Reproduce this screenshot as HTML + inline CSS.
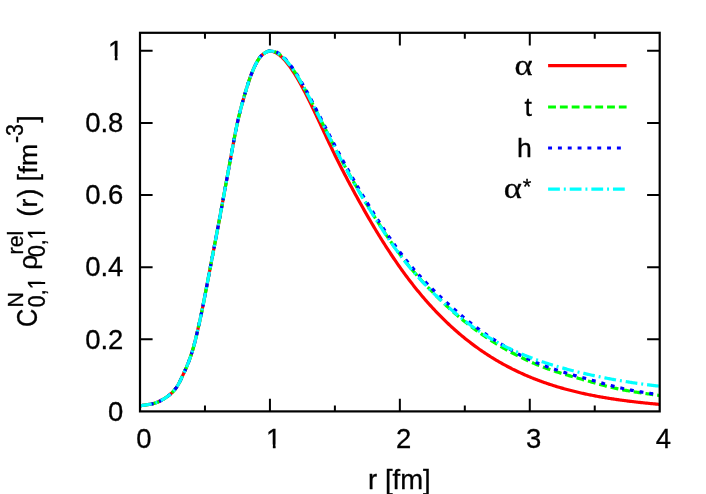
<!DOCTYPE html>
<html lang="en">
<head>
<meta charset="utf-8">
<title>Relative density plot</title>
<style>
html,body{margin:0;padding:0;background:#fff;}
body{width:706px;height:494px;overflow:hidden;font-family:"Liberation Sans",sans-serif;}
svg{display:block;}
</style>
</head>
<body>
<svg width="706" height="494" viewBox="0 0 706 494">
<rect width="706" height="494" fill="#fff"/>
<defs><clipPath id="c1"><path d="M-2,-32.00H26.67V-3.80H9.19V2H6.57V-3.80H-2Z"/></clipPath><clipPath id="c1s"><path d="M-2,-25.60H21.33V-3.40H7.37V2H5.23V-3.40H-2Z"/></clipPath></defs>
<g fill="none" stroke-linejoin="round">
<path d="M140.0,405.70 L141.0,405.59 L142.0,405.48 L143.0,405.36 L144.0,405.22 L145.0,405.08 L146.0,404.93 L147.0,404.76 L148.0,404.60 L149.0,404.42 L150.0,404.23 L151.0,404.04 L152.0,403.82 L153.0,403.59 L154.0,403.33 L155.0,403.04 L156.0,402.72 L157.0,402.36 L158.0,401.95 L159.0,401.51 L160.0,401.02 L161.0,400.50 L162.0,399.95 L163.0,399.37 L164.0,398.77 L165.0,398.14 L166.0,397.49 L167.0,396.80 L168.0,396.07 L169.0,395.29 L170.0,394.46 L171.0,393.57 L172.0,392.62 L173.0,391.61 L174.0,390.52 L175.0,389.35 L176.0,388.05 L177.0,386.59 L178.0,384.94 L179.0,383.12 L180.0,381.17 L181.0,379.13 L182.0,377.02 L183.0,374.89 L184.0,372.73 L185.0,370.53 L186.0,368.28 L187.0,365.96 L188.0,363.53 L189.0,360.97 L190.0,358.27 L191.0,355.40 L192.0,352.32 L193.0,348.98 L194.0,345.37 L195.0,341.52 L196.0,337.46 L197.0,333.23 L198.0,328.89 L199.0,324.46 L200.0,319.94 L201.0,315.31 L202.0,310.52 L203.0,305.57 L204.0,300.48 L205.0,295.30 L206.0,290.04 L207.0,284.75 L208.0,279.46 L209.0,274.20 L210.0,268.97 L211.0,263.76 L212.0,258.55 L213.0,253.32 L214.0,248.08 L215.0,242.82 L216.0,237.54 L217.0,232.24 L218.0,226.93 L219.0,221.59 L220.0,216.22 L221.0,210.82 L222.0,205.38 L223.0,199.92 L224.0,194.45 L225.0,188.98 L226.0,183.53 L227.0,178.10 L228.0,172.69 L229.0,167.27 L230.0,161.80 L231.0,156.28 L232.0,150.75 L233.0,145.25 L234.0,139.84 L235.0,134.57 L236.0,129.51 L237.0,124.69 L238.0,120.14 L239.0,115.85 L240.0,111.79 L241.0,107.90 L242.0,104.17 L243.0,100.56 L244.0,97.04 L245.0,93.60 L246.0,90.23 L247.0,86.93 L248.0,83.75 L249.0,80.72 L250.0,77.85 L251.0,75.14 L252.0,72.58 L253.0,70.14 L254.0,67.85 L255.0,65.73 L256.0,63.75 L257.0,61.90 L258.0,60.15 L259.0,58.54 L260.0,57.14 L261.0,55.99 L262.0,55.06 L263.0,54.26 L264.0,53.52 L265.0,52.85 L266.0,52.26 L267.0,51.77 L268.0,51.40 L269.0,51.16 L270.0,51.08 L271.0,51.14 L272.0,51.30 L273.0,51.56 L274.0,51.91 L275.0,52.33 L276.0,52.83 L277.0,53.41 L278.0,54.07 L279.0,54.79 L280.0,55.59 L281.0,56.45 L282.0,57.38 L283.0,58.37 L284.0,59.42 L285.0,60.54 L286.0,61.70 L287.0,62.93 L288.0,64.20 L289.0,65.53 L290.0,66.91 L291.0,68.33 L292.0,69.80 L293.0,71.32 L294.0,72.88 L295.0,74.47 L296.0,76.11 L297.0,77.79 L298.0,79.50 L299.0,81.24 L300.0,83.02 L301.0,84.83 L302.0,86.67 L303.0,88.54 L304.0,90.43 L305.0,92.36 L306.0,94.30 L307.0,96.28 L308.0,98.27 L309.0,100.28 L310.0,102.32 L311.0,104.37 L312.0,106.44 L313.0,108.52 L314.0,110.62 L315.0,112.72 L316.0,114.84 L317.0,116.97 L318.0,119.11 L319.0,121.25 L320.0,123.40 L321.0,125.55 L322.0,127.71 L323.0,129.86 L324.0,132.01 L325.0,134.16 L326.0,136.31 L327.0,138.45 L328.0,140.59 L329.0,142.71 L330.0,144.83 L331.0,146.93 L332.0,149.02 L333.0,151.10 L334.0,153.16 L335.0,155.22 L336.0,157.25 L337.0,159.27 L338.0,161.28 L339.0,163.27 L340.0,165.25 L341.0,167.21 L342.0,169.16 L343.0,171.10 L344.0,173.02 L345.0,174.94 L346.0,176.84 L347.0,178.74 L348.0,180.63 L349.0,182.51 L350.0,184.38 L351.0,186.25 L352.0,188.10 L353.0,189.95 L354.0,191.80 L355.0,193.64 L356.0,195.47 L357.0,197.29 L358.0,199.11 L359.0,200.92 L360.0,202.72 L361.0,204.52 L362.0,206.30 L363.0,208.08 L364.0,209.86 L365.0,211.62 L366.0,213.37 L367.0,215.12 L368.0,216.86 L369.0,218.59 L370.0,220.31 L371.0,222.02 L372.0,223.73 L373.0,225.42 L374.0,227.11 L375.0,228.78 L376.0,230.45 L377.0,232.10 L378.0,233.75 L379.0,235.39 L380.0,237.02 L381.0,238.63 L382.0,240.24 L383.0,241.84 L384.0,243.43 L385.0,245.00 L386.0,246.57 L387.0,248.13 L388.0,249.67 L389.0,251.21 L390.0,252.73 L391.0,254.25 L392.0,255.75 L393.0,257.25 L394.0,258.73 L395.0,260.20 L396.0,261.66 L397.0,263.11 L398.0,264.55 L399.0,265.98 L400.0,267.40 L401.0,268.81 L402.0,270.21 L403.0,271.60 L404.0,272.97 L405.0,274.34 L406.0,275.69 L407.0,277.04 L408.0,278.37 L409.0,279.69 L410.0,281.00 L411.0,282.31 L412.0,283.60 L413.0,284.88 L414.0,286.15 L415.0,287.41 L416.0,288.66 L417.0,289.90 L418.0,291.12 L419.0,292.34 L420.0,293.55 L421.0,294.75 L422.0,295.94 L423.0,297.12 L424.0,298.29 L425.0,299.45 L426.0,300.60 L427.0,301.74 L428.0,302.87 L429.0,303.99 L430.0,305.10 L431.0,306.20 L432.0,307.29 L433.0,308.37 L434.0,309.45 L435.0,310.51 L436.0,311.57 L437.0,312.61 L438.0,313.65 L439.0,314.68 L440.0,315.70 L441.0,316.71 L442.0,317.71 L443.0,318.70 L444.0,319.68 L445.0,320.66 L446.0,321.62 L447.0,322.58 L448.0,323.53 L449.0,324.47 L450.0,325.40 L451.0,326.32 L452.0,327.24 L453.0,328.15 L454.0,329.05 L455.0,329.94 L456.0,330.82 L457.0,331.69 L458.0,332.56 L459.0,333.42 L460.0,334.27 L461.0,335.11 L462.0,335.94 L463.0,336.77 L464.0,337.59 L465.0,338.40 L466.0,339.21 L467.0,340.00 L468.0,340.79 L469.0,341.57 L470.0,342.35 L471.0,343.11 L472.0,343.87 L473.0,344.62 L474.0,345.37 L475.0,346.11 L476.0,346.84 L477.0,347.56 L478.0,348.28 L479.0,348.99 L480.0,349.69 L481.0,350.39 L482.0,351.07 L483.0,351.76 L484.0,352.43 L485.0,353.10 L486.0,353.76 L487.0,354.42 L488.0,355.07 L489.0,355.71 L490.0,356.35 L491.0,356.98 L492.0,357.60 L493.0,358.22 L494.0,358.83 L495.0,359.43 L496.0,360.03 L497.0,360.62 L498.0,361.21 L499.0,361.79 L500.0,362.36 L501.0,362.93 L502.0,363.49 L503.0,364.05 L504.0,364.60 L505.0,365.15 L506.0,365.69 L507.0,366.22 L508.0,366.75 L509.0,367.27 L510.0,367.79 L511.0,368.30 L512.0,368.81 L513.0,369.31 L514.0,369.80 L515.0,370.29 L516.0,370.78 L517.0,371.26 L518.0,371.73 L519.0,372.20 L520.0,372.67 L521.0,373.13 L522.0,373.58 L523.0,374.03 L524.0,374.48 L525.0,374.92 L526.0,375.35 L527.0,375.78 L528.0,376.21 L529.0,376.63 L530.0,377.04 L531.0,377.45 L532.0,377.86 L533.0,378.26 L534.0,378.66 L535.0,379.05 L536.0,379.44 L537.0,379.83 L538.0,380.21 L539.0,380.58 L540.0,380.96 L541.0,381.32 L542.0,381.69 L543.0,382.04 L544.0,382.40 L545.0,382.75 L546.0,383.10 L547.0,383.44 L548.0,383.78 L549.0,384.11 L550.0,384.45 L551.0,384.77 L552.0,385.10 L553.0,385.42 L554.0,385.73 L555.0,386.04 L556.0,386.35 L557.0,386.66 L558.0,386.96 L559.0,387.26 L560.0,387.55 L561.0,387.84 L562.0,388.13 L563.0,388.41 L564.0,388.69 L565.0,388.97 L566.0,389.24 L567.0,389.51 L568.0,389.78 L569.0,390.04 L570.0,390.31 L571.0,390.56 L572.0,390.82 L573.0,391.07 L574.0,391.32 L575.0,391.56 L576.0,391.81 L577.0,392.04 L578.0,392.28 L579.0,392.52 L580.0,392.75 L581.0,392.97 L582.0,393.20 L583.0,393.42 L584.0,393.64 L585.0,393.86 L586.0,394.07 L587.0,394.28 L588.0,394.49 L589.0,394.70 L590.0,394.90 L591.0,395.11 L592.0,395.30 L593.0,395.50 L594.0,395.69 L595.0,395.89 L596.0,396.08 L597.0,396.26 L598.0,396.45 L599.0,396.63 L600.0,396.81 L601.0,396.99 L602.0,397.16 L603.0,397.34 L604.0,397.51 L605.0,397.68 L606.0,397.84 L607.0,398.01 L608.0,398.17 L609.0,398.33 L610.0,398.49 L611.0,398.65 L612.0,398.80 L613.0,398.95 L614.0,399.11 L615.0,399.26 L616.0,399.40 L617.0,399.55 L618.0,399.69 L619.0,399.83 L620.0,399.97 L621.0,400.11 L622.0,400.25 L623.0,400.38 L624.0,400.52 L625.0,400.65 L626.0,400.78 L627.0,400.91 L628.0,401.04 L629.0,401.16 L630.0,401.29 L631.0,401.41 L632.0,401.53 L633.0,401.65 L634.0,401.77 L635.0,401.88 L636.0,402.00 L637.0,402.11 L638.0,402.23 L639.0,402.34 L640.0,402.45 L641.0,402.56 L642.0,402.66 L643.0,402.77 L644.0,402.88 L645.0,402.98 L646.0,403.08 L647.0,403.18 L648.0,403.28 L649.0,403.38 L650.0,403.48 L651.0,403.58 L652.0,403.67 L653.0,403.77 L654.0,403.86 L655.0,403.96 L656.0,404.05 L657.0,404.14 L658.0,404.23 L659.0,404.31 L659.7,404.38" stroke="#ff0000" stroke-width="3.2"/>
<path d="M140.0,405.70 L141.0,405.59 L142.0,405.48 L143.0,405.36 L144.0,405.22 L145.0,405.08 L146.0,404.93 L147.0,404.76 L148.0,404.60 L149.0,404.42 L150.0,404.23 L151.0,404.04 L152.0,403.82 L153.0,403.59 L154.0,403.33 L155.0,403.04 L156.0,402.72 L157.0,402.36 L158.0,401.95 L159.0,401.51 L160.0,401.02 L161.0,400.50 L162.0,399.95 L163.0,399.37 L164.0,398.77 L165.0,398.14 L166.0,397.49 L167.0,396.80 L168.0,396.07 L169.0,395.29 L170.0,394.46 L171.0,393.57 L172.0,392.62 L173.0,391.61 L174.0,390.52 L175.0,389.35 L176.0,388.05 L177.0,386.59 L178.0,384.94 L179.0,383.12 L180.0,381.17 L181.0,379.13 L182.0,377.02 L183.0,374.89 L184.0,372.73 L185.0,370.53 L186.0,368.28 L187.0,365.96 L188.0,363.53 L189.0,360.97 L190.0,358.27 L191.0,355.40 L192.0,352.32 L193.0,348.98 L194.0,345.37 L195.0,341.52 L196.0,337.46 L197.0,333.23 L198.0,328.89 L199.0,324.46 L200.0,319.94 L201.0,315.31 L202.0,310.52 L203.0,305.57 L204.0,300.48 L205.0,295.30 L206.0,290.04 L207.0,284.75 L208.0,279.46 L209.0,274.20 L210.0,268.97 L211.0,263.76 L212.0,258.55 L213.0,253.32 L214.0,248.08 L215.0,242.82 L216.0,237.54 L217.0,232.24 L218.0,226.93 L219.0,221.59 L220.0,216.22 L221.0,210.82 L222.0,205.38 L223.0,199.92 L224.0,194.45 L225.0,188.98 L226.0,183.53 L227.0,178.10 L228.0,172.69 L229.0,167.27 L230.0,161.80 L231.0,156.28 L232.0,150.75 L233.0,145.25 L234.0,139.84 L235.0,134.57 L236.0,129.51 L237.0,124.69 L238.0,120.14 L239.0,115.85 L240.0,111.79 L241.0,107.90 L242.0,104.17 L243.0,100.56 L244.0,97.04 L245.0,93.60 L246.0,90.23 L247.0,86.93 L248.0,83.75 L249.0,80.72 L250.0,77.85 L251.0,75.14 L252.0,72.58 L253.0,70.14 L254.0,67.85 L255.0,65.73 L256.0,63.75 L257.0,61.90 L258.0,60.15 L259.0,58.54 L260.0,57.14 L261.0,55.99 L262.0,55.06 L263.0,54.26 L264.0,53.52 L265.0,52.85 L266.0,52.26 L267.0,51.77 L268.0,51.40 L269.0,51.16 L270.0,51.05 L271.0,51.04 L272.0,51.12 L273.0,51.29 L274.0,51.55 L275.0,51.88 L276.0,52.29 L277.0,52.78 L278.0,53.35 L279.0,53.99 L280.0,54.70 L281.0,55.48 L282.0,56.32 L283.0,57.23 L284.0,58.20 L285.0,59.23 L286.0,60.32 L287.0,61.47 L288.0,62.67 L289.0,63.92 L290.0,65.23 L291.0,66.58 L292.0,67.98 L293.0,69.42 L294.0,70.90 L295.0,72.43 L296.0,74.00 L297.0,75.60 L298.0,77.23 L299.0,78.90 L300.0,80.61 L301.0,82.34 L302.0,84.09 L303.0,85.87 L304.0,87.68 L305.0,89.50 L306.0,91.35 L307.0,93.21 L308.0,95.09 L309.0,96.99 L310.0,98.89 L311.0,100.82 L312.0,102.75 L313.0,104.69 L314.0,106.64 L315.0,108.60 L316.0,110.56 L317.0,112.53 L318.0,114.51 L319.0,116.48 L320.0,118.46 L321.0,120.44 L322.0,122.42 L323.0,124.40 L324.0,126.38 L325.0,128.36 L326.0,130.33 L327.0,132.31 L328.0,134.27 L329.0,136.24 L330.0,138.19 L331.0,140.15 L332.0,142.09 L333.0,144.03 L334.0,145.96 L335.0,147.88 L336.0,149.79 L337.0,151.69 L338.0,153.58 L339.0,155.47 L340.0,157.34 L341.0,159.21 L342.0,161.06 L343.0,162.91 L344.0,164.74 L345.0,166.56 L346.0,168.38 L347.0,170.19 L348.0,171.98 L349.0,173.77 L350.0,175.55 L351.0,177.32 L352.0,179.08 L353.0,180.84 L354.0,182.58 L355.0,184.32 L356.0,186.05 L357.0,187.77 L358.0,189.49 L359.0,191.20 L360.0,192.90 L361.0,194.59 L362.0,196.28 L363.0,197.96 L364.0,199.63 L365.0,201.30 L366.0,202.95 L367.0,204.61 L368.0,206.25 L369.0,207.89 L370.0,209.52 L371.0,211.14 L372.0,212.76 L373.0,214.37 L374.0,215.97 L375.0,217.57 L376.0,219.15 L377.0,220.73 L378.0,222.31 L379.0,223.87 L380.0,225.43 L381.0,226.97 L382.0,228.51 L383.0,230.05 L384.0,231.57 L385.0,233.08 L386.0,234.58 L387.0,236.08 L388.0,237.56 L389.0,239.04 L390.0,240.50 L391.0,241.95 L392.0,243.40 L393.0,244.83 L394.0,246.24 L395.0,247.65 L396.0,249.05 L397.0,250.43 L398.0,251.80 L399.0,253.15 L400.0,254.49 L401.0,255.82 L402.0,257.14 L403.0,258.44 L404.0,259.74 L405.0,261.01 L406.0,262.28 L407.0,263.53 L408.0,264.78 L409.0,266.00 L410.0,267.22 L411.0,268.42 L412.0,269.62 L413.0,270.80 L414.0,271.97 L415.0,273.13 L416.0,274.28 L417.0,275.42 L418.0,276.54 L419.0,277.66 L420.0,278.77 L421.0,279.87 L422.0,280.97 L423.0,282.05 L424.0,283.12 L425.0,284.19 L426.0,285.25 L427.0,286.30 L428.0,287.34 L429.0,288.38 L430.0,289.41 L431.0,290.43 L432.0,291.46 L433.0,292.47 L434.0,293.49 L435.0,294.50 L436.0,295.51 L437.0,296.51 L438.0,297.51 L439.0,298.50 L440.0,299.49 L441.0,300.47 L442.0,301.45 L443.0,302.42 L444.0,303.38 L445.0,304.34 L446.0,305.28 L447.0,306.22 L448.0,307.15 L449.0,308.08 L450.0,308.99 L451.0,309.89 L452.0,310.79 L453.0,311.68 L454.0,312.56 L455.0,313.43 L456.0,314.30 L457.0,315.15 L458.0,316.01 L459.0,316.85 L460.0,317.69 L461.0,318.51 L462.0,319.34 L463.0,320.15 L464.0,320.96 L465.0,321.76 L466.0,322.56 L467.0,323.34 L468.0,324.13 L469.0,324.90 L470.0,325.67 L471.0,326.43 L472.0,327.18 L473.0,327.93 L474.0,328.67 L475.0,329.40 L476.0,330.13 L477.0,330.85 L478.0,331.57 L479.0,332.28 L480.0,332.98 L481.0,333.68 L482.0,334.37 L483.0,335.07 L484.0,335.76 L485.0,336.44 L486.0,337.13 L487.0,337.81 L488.0,338.48 L489.0,339.14 L490.0,339.80 L491.0,340.46 L492.0,341.10 L493.0,341.74 L494.0,342.37 L495.0,343.00 L496.0,343.62 L497.0,344.23 L498.0,344.84 L499.0,345.45 L500.0,346.05 L501.0,346.64 L502.0,347.22 L503.0,347.80 L504.0,348.38 L505.0,348.94 L506.0,349.50 L507.0,350.06 L508.0,350.61 L509.0,351.15 L510.0,351.69 L511.0,352.22 L512.0,352.75 L513.0,353.27 L514.0,353.79 L515.0,354.30 L516.0,354.81 L517.0,355.32 L518.0,355.82 L519.0,356.32 L520.0,356.82 L521.0,357.31 L522.0,357.80 L523.0,358.29 L524.0,358.78 L525.0,359.26 L526.0,359.74 L527.0,360.22 L528.0,360.69 L529.0,361.15 L530.0,361.61 L531.0,362.07 L532.0,362.52 L533.0,362.96 L534.0,363.39 L535.0,363.82 L536.0,364.24 L537.0,364.65 L538.0,365.06 L539.0,365.46 L540.0,365.86 L541.0,366.25 L542.0,366.64 L543.0,367.03 L544.0,367.41 L545.0,367.78 L546.0,368.15 L547.0,368.52 L548.0,368.88 L549.0,369.24 L550.0,369.59 L551.0,369.94 L552.0,370.29 L553.0,370.63 L554.0,370.97 L555.0,371.30 L556.0,371.63 L557.0,371.96 L558.0,372.28 L559.0,372.59 L560.0,372.90 L561.0,373.21 L562.0,373.52 L563.0,373.82 L564.0,374.12 L565.0,374.42 L566.0,374.71 L567.0,375.01 L568.0,375.30 L569.0,375.59 L570.0,375.88 L571.0,376.17 L572.0,376.46 L573.0,376.75 L574.0,377.03 L575.0,377.32 L576.0,377.61 L577.0,377.89 L578.0,378.18 L579.0,378.47 L580.0,378.75 L581.0,379.03 L582.0,379.32 L583.0,379.60 L584.0,379.88 L585.0,380.16 L586.0,380.44 L587.0,380.72 L588.0,381.00 L589.0,381.28 L590.0,381.56 L591.0,381.84 L592.0,382.12 L593.0,382.41 L594.0,382.70 L595.0,382.99 L596.0,383.28 L597.0,383.57 L598.0,383.86 L599.0,384.15 L600.0,384.44 L601.0,384.72 L602.0,385.00 L603.0,385.28 L604.0,385.56 L605.0,385.83 L606.0,386.09 L607.0,386.34 L608.0,386.59 L609.0,386.84 L610.0,387.07 L611.0,387.31 L612.0,387.54 L613.0,387.77 L614.0,387.99 L615.0,388.21 L616.0,388.43 L617.0,388.65 L618.0,388.86 L619.0,389.07 L620.0,389.28 L621.0,389.48 L622.0,389.68 L623.0,389.88 L624.0,390.07 L625.0,390.26 L626.0,390.44 L627.0,390.62 L628.0,390.80 L629.0,390.97 L630.0,391.15 L631.0,391.32 L632.0,391.48 L633.0,391.65 L634.0,391.81 L635.0,391.97 L636.0,392.13 L637.0,392.29 L638.0,392.44 L639.0,392.59 L640.0,392.74 L641.0,392.89 L642.0,393.04 L643.0,393.19 L644.0,393.33 L645.0,393.47 L646.0,393.61 L647.0,393.75 L648.0,393.89 L649.0,394.03 L650.0,394.17 L651.0,394.31 L652.0,394.44 L653.0,394.58 L654.0,394.71 L655.0,394.84 L656.0,394.98 L657.0,395.11 L658.0,395.25 L659.0,395.38 L659.7,395.49" stroke="#00ff00" stroke-width="3.2" stroke-dasharray="7.86 3.93"/>
<path d="M140.0,405.70 L141.0,405.59 L142.0,405.48 L143.0,405.36 L144.0,405.22 L145.0,405.08 L146.0,404.93 L147.0,404.76 L148.0,404.60 L149.0,404.42 L150.0,404.23 L151.0,404.04 L152.0,403.82 L153.0,403.59 L154.0,403.33 L155.0,403.04 L156.0,402.72 L157.0,402.36 L158.0,401.95 L159.0,401.51 L160.0,401.02 L161.0,400.50 L162.0,399.95 L163.0,399.37 L164.0,398.77 L165.0,398.14 L166.0,397.49 L167.0,396.80 L168.0,396.07 L169.0,395.29 L170.0,394.46 L171.0,393.57 L172.0,392.62 L173.0,391.61 L174.0,390.52 L175.0,389.35 L176.0,388.05 L177.0,386.59 L178.0,384.94 L179.0,383.12 L180.0,381.17 L181.0,379.13 L182.0,377.02 L183.0,374.89 L184.0,372.73 L185.0,370.53 L186.0,368.28 L187.0,365.96 L188.0,363.53 L189.0,360.97 L190.0,358.27 L191.0,355.40 L192.0,352.32 L193.0,348.98 L194.0,345.37 L195.0,341.52 L196.0,337.46 L197.0,333.23 L198.0,328.89 L199.0,324.46 L200.0,319.94 L201.0,315.31 L202.0,310.52 L203.0,305.57 L204.0,300.48 L205.0,295.30 L206.0,290.04 L207.0,284.75 L208.0,279.46 L209.0,274.20 L210.0,268.97 L211.0,263.76 L212.0,258.55 L213.0,253.32 L214.0,248.08 L215.0,242.82 L216.0,237.54 L217.0,232.24 L218.0,226.93 L219.0,221.59 L220.0,216.22 L221.0,210.82 L222.0,205.38 L223.0,199.92 L224.0,194.45 L225.0,188.98 L226.0,183.53 L227.0,178.10 L228.0,172.69 L229.0,167.27 L230.0,161.80 L231.0,156.28 L232.0,150.75 L233.0,145.25 L234.0,139.84 L235.0,134.57 L236.0,129.51 L237.0,124.69 L238.0,120.14 L239.0,115.85 L240.0,111.79 L241.0,107.90 L242.0,104.17 L243.0,100.56 L244.0,97.04 L245.0,93.60 L246.0,90.23 L247.0,86.93 L248.0,83.75 L249.0,80.72 L250.0,77.85 L251.0,75.14 L252.0,72.58 L253.0,70.14 L254.0,67.85 L255.0,65.73 L256.0,63.75 L257.0,61.90 L258.0,60.15 L259.0,58.54 L260.0,57.14 L261.0,55.99 L262.0,55.06 L263.0,54.26 L264.0,53.52 L265.0,52.85 L266.0,52.26 L267.0,51.77 L268.0,51.40 L269.0,51.15 L270.0,51.01 L271.0,50.94 L272.0,50.94 L273.0,51.02 L274.0,51.21 L275.0,51.49 L276.0,51.86 L277.0,52.32 L278.0,52.86 L279.0,53.48 L280.0,54.17 L281.0,54.93 L282.0,55.76 L283.0,56.65 L284.0,57.61 L285.0,58.62 L286.0,59.70 L287.0,60.83 L288.0,62.01 L289.0,63.24 L290.0,64.53 L291.0,65.85 L292.0,67.23 L293.0,68.64 L294.0,70.10 L295.0,71.60 L296.0,73.13 L297.0,74.70 L298.0,76.31 L299.0,77.94 L300.0,79.60 L301.0,81.29 L302.0,83.01 L303.0,84.74 L304.0,86.50 L305.0,88.28 L306.0,90.08 L307.0,91.89 L308.0,93.73 L309.0,95.59 L310.0,97.46 L311.0,99.35 L312.0,101.26 L313.0,103.17 L314.0,105.09 L315.0,107.02 L316.0,108.95 L317.0,110.90 L318.0,112.84 L319.0,114.79 L320.0,116.74 L321.0,118.69 L322.0,120.64 L323.0,122.60 L324.0,124.55 L325.0,126.50 L326.0,128.45 L327.0,130.39 L328.0,132.33 L329.0,134.27 L330.0,136.20 L331.0,138.13 L332.0,140.05 L333.0,141.97 L334.0,143.87 L335.0,145.78 L336.0,147.67 L337.0,149.56 L338.0,151.45 L339.0,153.32 L340.0,155.19 L341.0,157.05 L342.0,158.90 L343.0,160.74 L344.0,162.57 L345.0,164.39 L346.0,166.21 L347.0,168.01 L348.0,169.80 L349.0,171.59 L350.0,173.37 L351.0,175.14 L352.0,176.90 L353.0,178.65 L354.0,180.39 L355.0,182.13 L356.0,183.86 L357.0,185.58 L358.0,187.30 L359.0,189.00 L360.0,190.70 L361.0,192.40 L362.0,194.08 L363.0,195.76 L364.0,197.43 L365.0,199.10 L366.0,200.76 L367.0,202.41 L368.0,204.05 L369.0,205.69 L370.0,207.32 L371.0,208.94 L372.0,210.56 L373.0,212.16 L374.0,213.76 L375.0,215.36 L376.0,216.94 L377.0,218.52 L378.0,220.09 L379.0,221.65 L380.0,223.21 L381.0,224.75 L382.0,226.29 L383.0,227.81 L384.0,229.33 L385.0,230.84 L386.0,232.34 L387.0,233.83 L388.0,235.31 L389.0,236.78 L390.0,238.24 L391.0,239.69 L392.0,241.12 L393.0,242.55 L394.0,243.96 L395.0,245.36 L396.0,246.75 L397.0,248.12 L398.0,249.49 L399.0,250.84 L400.0,252.17 L401.0,253.49 L402.0,254.80 L403.0,256.10 L404.0,257.38 L405.0,258.65 L406.0,259.90 L407.0,261.14 L408.0,262.37 L409.0,263.59 L410.0,264.79 L411.0,265.98 L412.0,267.16 L413.0,268.32 L414.0,269.48 L415.0,270.62 L416.0,271.75 L417.0,272.87 L418.0,273.99 L419.0,275.09 L420.0,276.18 L421.0,277.26 L422.0,278.33 L423.0,279.40 L424.0,280.45 L425.0,281.50 L426.0,282.54 L427.0,283.57 L428.0,284.60 L429.0,285.61 L430.0,286.62 L431.0,287.63 L432.0,288.62 L433.0,289.61 L434.0,290.59 L435.0,291.57 L436.0,292.54 L437.0,293.51 L438.0,294.46 L439.0,295.42 L440.0,296.36 L441.0,297.30 L442.0,298.24 L443.0,299.17 L444.0,300.10 L445.0,301.02 L446.0,301.93 L447.0,302.84 L448.0,303.74 L449.0,304.64 L450.0,305.54 L451.0,306.42 L452.0,307.31 L453.0,308.18 L454.0,309.05 L455.0,309.92 L456.0,310.79 L457.0,311.66 L458.0,312.54 L459.0,313.42 L460.0,314.29 L461.0,315.17 L462.0,316.03 L463.0,316.89 L464.0,317.73 L465.0,318.56 L466.0,319.38 L467.0,320.19 L468.0,320.98 L469.0,321.77 L470.0,322.55 L471.0,323.32 L472.0,324.08 L473.0,324.84 L474.0,325.59 L475.0,326.34 L476.0,327.09 L477.0,327.83 L478.0,328.56 L479.0,329.30 L480.0,330.02 L481.0,330.75 L482.0,331.47 L483.0,332.18 L484.0,332.89 L485.0,333.59 L486.0,334.29 L487.0,334.98 L488.0,335.66 L489.0,336.34 L490.0,337.01 L491.0,337.67 L492.0,338.33 L493.0,338.98 L494.0,339.62 L495.0,340.26 L496.0,340.89 L497.0,341.51 L498.0,342.13 L499.0,342.74 L500.0,343.35 L501.0,343.96 L502.0,344.56 L503.0,345.16 L504.0,345.75 L505.0,346.35 L506.0,346.94 L507.0,347.54 L508.0,348.14 L509.0,348.74 L510.0,349.34 L511.0,349.93 L512.0,350.53 L513.0,351.11 L514.0,351.69 L515.0,352.26 L516.0,352.82 L517.0,353.37 L518.0,353.91 L519.0,354.44 L520.0,354.96 L521.0,355.47 L522.0,355.98 L523.0,356.48 L524.0,356.98 L525.0,357.47 L526.0,357.96 L527.0,358.44 L528.0,358.91 L529.0,359.37 L530.0,359.83 L531.0,360.29 L532.0,360.73 L533.0,361.17 L534.0,361.60 L535.0,362.02 L536.0,362.44 L537.0,362.85 L538.0,363.25 L539.0,363.65 L540.0,364.04 L541.0,364.43 L542.0,364.81 L543.0,365.18 L544.0,365.55 L545.0,365.92 L546.0,366.28 L547.0,366.64 L548.0,367.00 L549.0,367.35 L550.0,367.70 L551.0,368.04 L552.0,368.39 L553.0,368.73 L554.0,369.07 L555.0,369.41 L556.0,369.74 L557.0,370.07 L558.0,370.40 L559.0,370.73 L560.0,371.06 L561.0,371.38 L562.0,371.70 L563.0,372.02 L564.0,372.33 L565.0,372.64 L566.0,372.95 L567.0,373.26 L568.0,373.56 L569.0,373.86 L570.0,374.16 L571.0,374.46 L572.0,374.75 L573.0,375.04 L574.0,375.33 L575.0,375.62 L576.0,375.90 L577.0,376.18 L578.0,376.45 L579.0,376.72 L580.0,377.00 L581.0,377.26 L582.0,377.53 L583.0,377.80 L584.0,378.06 L585.0,378.33 L586.0,378.59 L587.0,378.86 L588.0,379.13 L589.0,379.39 L590.0,379.66 L591.0,379.93 L592.0,380.21 L593.0,380.49 L594.0,380.77 L595.0,381.06 L596.0,381.35 L597.0,381.64 L598.0,381.93 L599.0,382.22 L600.0,382.51 L601.0,382.80 L602.0,383.09 L603.0,383.38 L604.0,383.67 L605.0,383.95 L606.0,384.23 L607.0,384.50 L608.0,384.77 L609.0,385.04 L610.0,385.30 L611.0,385.56 L612.0,385.82 L613.0,386.08 L614.0,386.33 L615.0,386.59 L616.0,386.84 L617.0,387.09 L618.0,387.34 L619.0,387.58 L620.0,387.82 L621.0,388.05 L622.0,388.29 L623.0,388.51 L624.0,388.73 L625.0,388.94 L626.0,389.15 L627.0,389.36 L628.0,389.56 L629.0,389.76 L630.0,389.96 L631.0,390.15 L632.0,390.34 L633.0,390.53 L634.0,390.71 L635.0,390.90 L636.0,391.08 L637.0,391.26 L638.0,391.43 L639.0,391.60 L640.0,391.77 L641.0,391.94 L642.0,392.11 L643.0,392.27 L644.0,392.44 L645.0,392.60 L646.0,392.76 L647.0,392.92 L648.0,393.07 L649.0,393.23 L650.0,393.38 L651.0,393.53 L652.0,393.68 L653.0,393.83 L654.0,393.97 L655.0,394.12 L656.0,394.27 L657.0,394.41 L658.0,394.55 L659.0,394.68 L659.7,394.79" stroke="#0000ff" stroke-width="3.2" stroke-dasharray="3.93 5.90"/>
<path d="M140.0,405.70 L141.0,405.59 L142.0,405.48 L143.0,405.36 L144.0,405.22 L145.0,405.08 L146.0,404.93 L147.0,404.76 L148.0,404.60 L149.0,404.42 L150.0,404.23 L151.0,404.04 L152.0,403.82 L153.0,403.59 L154.0,403.33 L155.0,403.04 L156.0,402.72 L157.0,402.36 L158.0,401.95 L159.0,401.51 L160.0,401.02 L161.0,400.50 L162.0,399.95 L163.0,399.37 L164.0,398.77 L165.0,398.14 L166.0,397.49 L167.0,396.80 L168.0,396.07 L169.0,395.29 L170.0,394.46 L171.0,393.57 L172.0,392.62 L173.0,391.61 L174.0,390.52 L175.0,389.35 L176.0,388.05 L177.0,386.59 L178.0,384.94 L179.0,383.12 L180.0,381.17 L181.0,379.13 L182.0,377.02 L183.0,374.89 L184.0,372.73 L185.0,370.53 L186.0,368.28 L187.0,365.96 L188.0,363.53 L189.0,360.97 L190.0,358.27 L191.0,355.40 L192.0,352.32 L193.0,348.98 L194.0,345.37 L195.0,341.52 L196.0,337.46 L197.0,333.23 L198.0,328.89 L199.0,324.46 L200.0,319.94 L201.0,315.31 L202.0,310.52 L203.0,305.57 L204.0,300.48 L205.0,295.30 L206.0,290.04 L207.0,284.75 L208.0,279.46 L209.0,274.20 L210.0,268.97 L211.0,263.76 L212.0,258.55 L213.0,253.32 L214.0,248.08 L215.0,242.82 L216.0,237.54 L217.0,232.24 L218.0,226.93 L219.0,221.59 L220.0,216.22 L221.0,210.82 L222.0,205.38 L223.0,199.92 L224.0,194.45 L225.0,188.98 L226.0,183.53 L227.0,178.10 L228.0,172.69 L229.0,167.27 L230.0,161.80 L231.0,156.28 L232.0,150.75 L233.0,145.25 L234.0,139.84 L235.0,134.57 L236.0,129.51 L237.0,124.69 L238.0,120.14 L239.0,115.85 L240.0,111.79 L241.0,107.90 L242.0,104.17 L243.0,100.56 L244.0,97.04 L245.0,93.60 L246.0,90.23 L247.0,86.93 L248.0,83.75 L249.0,80.72 L250.0,77.85 L251.0,75.14 L252.0,72.58 L253.0,70.14 L254.0,67.85 L255.0,65.73 L256.0,63.75 L257.0,61.90 L258.0,60.15 L259.0,58.54 L260.0,57.14 L261.0,55.99 L262.0,55.06 L263.0,54.26 L264.0,53.52 L265.0,52.85 L266.0,52.26 L267.0,51.77 L268.0,51.40 L269.0,51.16 L270.0,51.05 L271.0,51.04 L272.0,51.12 L273.0,51.29 L274.0,51.55 L275.0,51.88 L276.0,52.29 L277.0,52.78 L278.0,53.35 L279.0,53.99 L280.0,54.70 L281.0,55.48 L282.0,56.32 L283.0,57.23 L284.0,58.20 L285.0,59.23 L286.0,60.32 L287.0,61.47 L288.0,62.67 L289.0,63.92 L290.0,65.23 L291.0,66.58 L292.0,67.98 L293.0,69.42 L294.0,70.90 L295.0,72.43 L296.0,74.00 L297.0,75.60 L298.0,77.23 L299.0,78.90 L300.0,80.61 L301.0,82.34 L302.0,84.10 L303.0,85.88 L304.0,87.69 L305.0,89.52 L306.0,91.38 L307.0,93.25 L308.0,95.14 L309.0,97.04 L310.0,98.96 L311.0,100.90 L312.0,102.84 L313.0,104.80 L314.0,106.76 L315.0,108.73 L316.0,110.71 L317.0,112.69 L318.0,114.68 L319.0,116.67 L320.0,118.66 L321.0,120.66 L322.0,122.65 L323.0,124.64 L324.0,126.63 L325.0,128.62 L326.0,130.60 L327.0,132.58 L328.0,134.56 L329.0,136.53 L330.0,138.49 L331.0,140.45 L332.0,142.40 L333.0,144.34 L334.0,146.27 L335.0,148.20 L336.0,150.12 L337.0,152.02 L338.0,153.92 L339.0,155.81 L340.0,157.69 L341.0,159.56 L342.0,161.42 L343.0,163.26 L344.0,165.10 L345.0,166.93 L346.0,168.75 L347.0,170.56 L348.0,172.36 L349.0,174.16 L350.0,175.94 L351.0,177.71 L352.0,179.48 L353.0,181.24 L354.0,182.99 L355.0,184.73 L356.0,186.46 L357.0,188.19 L358.0,189.91 L359.0,191.62 L360.0,193.32 L361.0,195.02 L362.0,196.71 L363.0,198.39 L364.0,200.07 L365.0,201.74 L366.0,203.40 L367.0,205.05 L368.0,206.70 L369.0,208.34 L370.0,209.98 L371.0,211.60 L372.0,213.22 L373.0,214.83 L374.0,216.44 L375.0,218.04 L376.0,219.62 L377.0,221.21 L378.0,222.78 L379.0,224.35 L380.0,225.91 L381.0,227.46 L382.0,229.00 L383.0,230.53 L384.0,232.05 L385.0,233.57 L386.0,235.07 L387.0,236.57 L388.0,238.06 L389.0,239.53 L390.0,241.00 L391.0,242.45 L392.0,243.89 L393.0,245.32 L394.0,246.74 L395.0,248.15 L396.0,249.54 L397.0,250.93 L398.0,252.30 L399.0,253.65 L400.0,254.99 L401.0,256.32 L402.0,257.64 L403.0,258.94 L404.0,260.23 L405.0,261.50 L406.0,262.76 L407.0,264.01 L408.0,265.25 L409.0,266.47 L410.0,267.68 L411.0,268.87 L412.0,270.06 L413.0,271.23 L414.0,272.39 L415.0,273.54 L416.0,274.68 L417.0,275.80 L418.0,276.92 L419.0,278.03 L420.0,279.12 L421.0,280.21 L422.0,281.29 L423.0,282.36 L424.0,283.42 L425.0,284.47 L426.0,285.51 L427.0,286.55 L428.0,287.57 L429.0,288.59 L430.0,289.61 L431.0,290.61 L432.0,291.61 L433.0,292.60 L434.0,293.59 L435.0,294.57 L436.0,295.54 L437.0,296.50 L438.0,297.46 L439.0,298.42 L440.0,299.36 L441.0,300.30 L442.0,301.24 L443.0,302.17 L444.0,303.09 L445.0,304.00 L446.0,304.91 L447.0,305.82 L448.0,306.71 L449.0,307.61 L450.0,308.49 L451.0,309.37 L452.0,310.24 L453.0,311.11 L454.0,311.97 L455.0,312.82 L456.0,313.66 L457.0,314.50 L458.0,315.34 L459.0,316.16 L460.0,316.98 L461.0,317.79 L462.0,318.60 L463.0,319.39 L464.0,320.18 L465.0,320.97 L466.0,321.74 L467.0,322.51 L468.0,323.27 L469.0,324.02 L470.0,324.77 L471.0,325.51 L472.0,326.24 L473.0,326.96 L474.0,327.68 L475.0,328.38 L476.0,329.08 L477.0,329.78 L478.0,330.46 L479.0,331.14 L480.0,331.81 L481.0,332.48 L482.0,333.13 L483.0,333.78 L484.0,334.42 L485.0,335.06 L486.0,335.68 L487.0,336.30 L488.0,336.92 L489.0,337.52 L490.0,338.12 L491.0,338.72 L492.0,339.30 L493.0,339.88 L494.0,340.45 L495.0,341.02 L496.0,341.58 L497.0,342.13 L498.0,342.68 L499.0,343.22 L500.0,343.76 L501.0,344.29 L502.0,344.81 L503.0,345.33 L504.0,345.84 L505.0,346.34 L506.0,346.84 L507.0,347.34 L508.0,347.83 L509.0,348.31 L510.0,348.79 L511.0,349.26 L512.0,349.73 L513.0,350.19 L514.0,350.65 L515.0,351.10 L516.0,351.55 L517.0,351.99 L518.0,352.43 L519.0,352.86 L520.0,353.29 L521.0,353.72 L522.0,354.14 L523.0,354.55 L524.0,354.96 L525.0,355.37 L526.0,355.77 L527.0,356.17 L528.0,356.56 L529.0,356.95 L530.0,357.33 L531.0,357.72 L532.0,358.09 L533.0,358.47 L534.0,358.84 L535.0,359.20 L536.0,359.56 L537.0,359.92 L538.0,360.28 L539.0,360.63 L540.0,360.97 L541.0,361.32 L542.0,361.66 L543.0,361.99 L544.0,362.33 L545.0,362.66 L546.0,362.99 L547.0,363.31 L548.0,363.63 L549.0,363.95 L550.0,364.26 L551.0,364.57 L552.0,364.88 L553.0,365.19 L554.0,365.49 L555.0,365.79 L556.0,366.09 L557.0,366.38 L558.0,366.67 L559.0,366.96 L560.0,367.25 L561.0,367.53 L562.0,367.81 L563.0,368.09 L564.0,368.37 L565.0,368.64 L566.0,368.91 L567.0,369.18 L568.0,369.44 L569.0,369.71 L570.0,369.97 L571.0,370.23 L572.0,370.49 L573.0,370.74 L574.0,370.99 L575.0,371.24 L576.0,371.49 L577.0,371.74 L578.0,371.98 L579.0,372.22 L580.0,372.46 L581.0,372.70 L582.0,372.94 L583.0,373.17 L584.0,373.41 L585.0,373.64 L586.0,373.86 L587.0,374.09 L588.0,374.32 L589.0,374.54 L590.0,374.76 L591.0,374.98 L592.0,375.20 L593.0,375.41 L594.0,375.63 L595.0,375.84 L596.0,376.05 L597.0,376.26 L598.0,376.47 L599.0,376.67 L600.0,376.87 L601.0,377.08 L602.0,377.28 L603.0,377.48 L604.0,377.67 L605.0,377.87 L606.0,378.06 L607.0,378.26 L608.0,378.45 L609.0,378.64 L610.0,378.83 L611.0,379.01 L612.0,379.20 L613.0,379.38 L614.0,379.56 L615.0,379.74 L616.0,379.92 L617.0,380.10 L618.0,380.28 L619.0,380.45 L620.0,380.62 L621.0,380.79 L622.0,380.96 L623.0,381.13 L624.0,381.30 L625.0,381.47 L626.0,381.63 L627.0,381.79 L628.0,381.95 L629.0,382.11 L630.0,382.27 L631.0,382.42 L632.0,382.58 L633.0,382.73 L634.0,382.88 L635.0,383.03 L636.0,383.18 L637.0,383.33 L638.0,383.47 L639.0,383.62 L640.0,383.76 L641.0,383.90 L642.0,384.04 L643.0,384.17 L644.0,384.31 L645.0,384.44 L646.0,384.57 L647.0,384.70 L648.0,384.83 L649.0,384.96 L650.0,385.08 L651.0,385.20 L652.0,385.32 L653.0,385.44 L654.0,385.56 L655.0,385.68 L656.0,385.79 L657.0,385.90 L658.0,386.01 L659.0,386.10 L659.7,386.19" stroke="#00ffff" stroke-width="3.2" stroke-dasharray="11.79 3.93 1.97 3.93"/>
</g>
<g fill="none">
<path d="M548.1,65.7H626.6" stroke="#ff0000" stroke-width="3.2"/>
<path d="M548.1,107.0H626.6" stroke="#00ff00" stroke-width="3.2" stroke-dasharray="7.86 3.93"/>
<path d="M548.1,148.0H626.6" stroke="#0000ff" stroke-width="3.2" stroke-dasharray="3.93 5.90"/>
<path d="M548.1,189.2H626.6" stroke="#00ffff" stroke-width="3.2" stroke-dasharray="11.79 3.93 1.97 3.93"/>
</g>
<path d="M204.96,411.40v-6.00M204.96,32.80v6.00M269.93,411.40v-12.60M269.93,32.80v12.60M334.89,411.40v-6.00M334.89,32.80v6.00M399.85,411.40v-12.60M399.85,32.80v12.60M464.81,411.40v-6.00M464.81,32.80v6.00M529.78,411.40v-12.60M529.78,32.80v12.60M594.74,411.40v-6.00M594.74,32.80v6.00M140.00,339.28h12.60M659.70,339.28h-12.60M140.00,267.16h12.60M659.70,267.16h-12.60M140.00,195.04h12.60M659.70,195.04h-12.60M140.00,122.92h12.60M659.70,122.92h-12.60M140.00,50.80h12.60M659.70,50.80h-12.60" stroke="#000" stroke-width="2" fill="none"/>
<rect x="140.0" y="32.8" width="519.70" height="378.60" fill="none" stroke="#000" stroke-width="2.2"/>
<g font-family="Liberation Sans, sans-serif" font-size="26.67" fill="#000" stroke="#000" stroke-width="0.3" opacity="0.999" style="will-change:transform">
<text transform="translate(123.30,420.70) scale(1.03,1.05)" text-anchor="end">0</text>
<text transform="translate(123.30,348.58) scale(1.03,1.05)" text-anchor="end">0.2</text>
<text transform="translate(123.30,276.46) scale(1.03,1.05)" text-anchor="end">0.4</text>
<text transform="translate(123.30,204.34) scale(1.03,1.05)" text-anchor="end">0.6</text>
<text transform="translate(123.30,132.22) scale(1.03,1.05)" text-anchor="end">0.8</text>
<text transform="translate(108.03,60.10) scale(1.03,1.05)" text-anchor="start" clip-path="url(#c1)">1</text>
<text transform="translate(143.80,448.40) scale(1.03,1.05)" text-anchor="middle">0</text>
<text transform="translate(266.09,448.40) scale(1.03,1.05)" text-anchor="start" clip-path="url(#c1)">1</text>
<text transform="translate(403.65,448.40) scale(1.03,1.05)" text-anchor="middle">2</text>
<text transform="translate(533.58,448.40) scale(1.03,1.05)" text-anchor="middle">3</text>
<text transform="translate(663.50,448.40) scale(1.03,1.05)" text-anchor="middle">4</text>
<text transform="translate(399.40,489.30) scale(1.03,1.03)" text-anchor="middle">r [fm]</text>
<text transform="translate(514.4,74.8) scale(1.2,1)" font-family="Liberation Serif, serif" font-size="28.8">α</text>
<text x="531.9" y="115.9" text-anchor="end">t</text>
<text x="531.9" y="157.2" text-anchor="end">h</text>
<text transform="translate(503.8,198.3) scale(1.2,1)" font-family="Liberation Serif, serif" font-size="28.8">α</text>
<text x="522.7" y="193.7" font-size="22">*</text>
<text transform="translate(36.60,327.09) rotate(-90) scale(0.95,1.1)" font-size="26.67">C</text>
<text transform="translate(23.00,307.55) rotate(-90) scale(1.0,1.05)" font-size="21.33">N</text>
<text transform="translate(44.90,307.13) rotate(-90) scale(1.0,1.08)" font-size="21.33">0,</text><text transform="translate(44.90,289.34) rotate(-90) scale(1.0,1.08)" font-size="21.33" clip-path="url(#c1s)">1</text>
<text transform="translate(36.60,269.72) rotate(-90)" font-size="26.67">ρ</text>
<text transform="translate(23.00,254.42) rotate(-90)" font-size="21.33">rel</text>
<text transform="translate(44.90,257.03) rotate(-90) scale(1.0,1.08)" font-size="21.33">0,</text><text transform="translate(44.90,239.24) rotate(-90) scale(1.0,1.08)" font-size="21.33" clip-path="url(#c1s)">1</text>
<text transform="translate(36.60,216.85) rotate(-90) scale(1.0,1.05)" font-size="26.67">(</text>
<text transform="translate(36.60,207.57) rotate(-90)" font-size="26.67">r</text>
<text transform="translate(36.60,197.56) rotate(-90) scale(1.0,1.05)" font-size="26.67">)</text>
<text transform="translate(36.60,181.50) rotate(-90) scale(1.0,1.05)" font-size="26.67">[</text>
<text transform="translate(36.60,173.38) rotate(-90)" font-size="26.67">fm</text>
<text transform="translate(23.00,143.05) rotate(-90) scale(1.0,1.08)" font-size="21.33">-3</text>
<text transform="translate(36.60,122.81) rotate(-90) scale(1.0,1.05)" font-size="26.67">]</text>
</g>
</svg>
</body>
</html>
